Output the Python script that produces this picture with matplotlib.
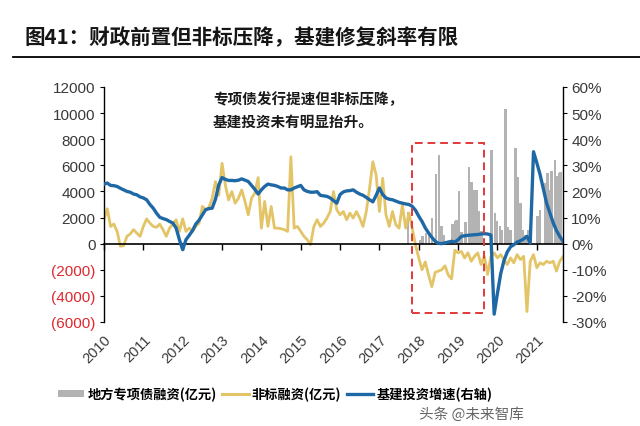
import numpy as np
import matplotlib
matplotlib.use('agg')
import matplotlib.pyplot as plt
from matplotlib.patches import Rectangle, Patch
from matplotlib.lines import Line2D

plt.rcParams['font.family'] = ['Liberation Sans', 'Noto Sans CJK SC']
CJK = ['Noto Sans CJK SC', 'DejaVu Sans']

########################## data ########################################
# monthly points, index 0 = first month at the 2010 tick (Mar 2010)
year_labels = ['2010', '2011', '2012', '2013', '2014', '2015',
               '2016', '2017', '2018', '2019', '2020', '2021']

# non-standard financing (亿元), left axis
nonstd = [1830, 2670, 1320, 1500, 940, -200, -150, 560, 740, 1070, 810, 560,
          1320, 1900, 1570, 1320, 1250, 1500, 1070, 560, 1190, 1500, 1830, 940,
          1900, 940, 1190, 940, 1320, 1570, 2850, 2590, 2770, 3480, 4750, 3700,
          6150, 4500, 3350, 3990, 3100, 3480, 4110, 3230, 2210, 3480, 3860, 5050,
          1190, 3230, 1320, 2850, 1190, 1190, 1140, 1070, 940, 6650, 1190, 1320,
          940, 560, 300, -80, 1300, 1830, 1320, 1570, 1960, 2460, 3990, 2590,
          2210, 2460, 1830, 2340, 1960, 2460, 1960, 1320, 2460, 4240, 6270, 5260,
          2460, 5000, 2210, 1320, 2460, 1450, 1190, 2970, 1190, 2340, 1190, -80,
          -1100, -2000, -1400, -2400, -3300, -2200, -2100, -2000, -1700, -2400, -2700, -500,
          -700, -600, -1100, -700, -1350, -970, -710, -1600, -970, -2360, -1000, -710,
          -1090, -840, -1220, -1600, -1090, -1470, -840, -1220, -970, -5200, -1350, -840,
          -1850, -1470, -1600, -1350, -1470, -1350, -2100, -1350, -1000]

# infrastructure investment growth (%), right axis
infra = [22.8, 23.2, 22.3, 22.2, 21.9, 21.2, 20.6, 20.0, 19.7, 19.0, 18.7, 17.9,
         17.5, 16.8, 15.0, 13.6, 11.7, 10.1, 9.6, 9.2, 8.5, 7.9, 6.0, 1.5,
         -2.3, 1.5, 3.2, 5.0, 7.5, 9.0, 11.0, 13.0, 13.4, 13.6, 17.0, 22.5,
         25.3, 24.6, 24.2, 24.2, 24.1, 24.3, 24.8, 24.3, 23.8, 22.3, 20.8, 19.0,
         20.6, 21.9, 22.8, 22.5, 22.3, 21.9, 21.3, 21.3, 20.6, 20.6, 21.3, 21.8,
         22.3, 20.6, 20.0, 19.7, 19.7, 19.9, 18.5, 18.3, 18.1, 17.5, 16.5, 15.5,
         18.8, 19.8, 20.2, 20.3, 20.6, 19.7, 19.0, 18.5, 17.7, 16.8, 16.0, 18.5,
         21.3, 18.8, 17.5, 17.0, 16.8, 16.3, 15.8, 15.5, 15.2, 15.0, 14.3, 12.8,
         10.5, 8.5, 6.0, 4.1, 2.4, 0.9, 0.1, 0.0, 0.3, 0.6, 0.9, 0.6,
         1.5, 2.8, 3.0, 3.2, 3.3, 3.4, 3.5, 3.7, 3.8, 3.7, 3.3, -27.0,
         -19.0, -11.5, -6.5, -3.2, -1.2, -0.4, 0.6, 1.1, 1.8, 2.8, 0.3, 35.2,
         31.0, 26.5, 21.0, 15.5, 11.7, 8.0, 5.0, 2.8, 0.9]

# local special bond financing (亿元), left axis; positions in months
bond_pos = [92.8, 96.3, 97.2, 98.2, 99.2, 100.1, 101.2, 102.2, 103.0, 103.7,
            106.3, 107.0, 107.5, 108.3, 109.1, 110.3, 111.3, 112.1, 112.8, 113.6,
            114.4, 115.2, 118.2, 119.2, 119.9, 120.7, 121.4, 122.5, 123.3, 124.0,
            125.5, 126.3, 127.0, 127.8, 128.5, 129.4, 132.2, 132.9, 134.5, 135.2,
            136.0, 136.5, 137.5, 138.0, 138.7, 139.3]
bond_val = [2400, 300, 600, 800, 800, 1950, 5300, 6800, 1350, 700,
            1500, 1700, 1800, 4000, 900, 1650, 5900, 4700, 4100, 4100,
            2500, 950, 7170, 2340, 1730, 1350, 1070, 10350, 1300, 1050,
            7300, 5140, 3100, 1050, 700, 1050, 2100, 2600, 4630, 5400,
            4100, 5550, 6400, 5150, 5400, 5500]

# highlighted window (months, left-axis units)
box_x = [93.9, 115.9]
box_y = [-5340, 7680]

left_ticks = [-6000, -4000, -2000, 0, 2000, 4000, 6000, 8000, 10000, 12000]
right_ticks = [-30, -20, -10, 0, 10, 20, 30, 40, 50, 60]

########################## plot ########################################
idx = np.arange(len(nonstd))
c_gray = '#B3B3B3'
c_yel = '#E3C466'
c_blue = '#1F68A6'
c_txt = '#3A3A3A'

fig = plt.figure(figsize=(6.4, 4.27), dpi=100)
ax = fig.add_axes([0.1625, 0.2436, 0.7172, 0.5504])
ax2 = ax.twinx()

ax.bar(bond_pos, bond_val, width=0.75, color=c_gray, zorder=1)
ax.plot(idx, nonstd, color=c_yel, lw=2.0, zorder=2)
ax2.plot(idx, infra, color=c_blue, lw=2.4, zorder=3)
ax2.add_patch(Rectangle((box_x[0], box_y[0] / 200.0), box_x[1] - box_x[0],
                        (box_y[1] - box_y[0]) / 200.0, fill=False,
                        edgecolor='#E2393A', lw=1.4, ls=(0, (4, 2.5)), zorder=4))

ax.set_xlim(0, len(nonstd) - 1)
ax.set_ylim(-6000, 12000)
ax2.set_ylim(-30, 60)

# axis line through zero with year ticks, labels at the bottom
ax.spines['bottom'].set_position(('data', 0))
ax.spines['top'].set_visible(False)
ax.spines['right'].set_visible(False)
for s in ['top', 'bottom', 'left']:
    ax2.spines[s].set_visible(False)
ax.spines['bottom'].set_linewidth(1.2)
ax.spines['left'].set_linewidth(1.0)
ax2.spines['right'].set_linewidth(1.0)

year_pos = np.arange(len(year_labels)) * 12
ax.set_xticks(year_pos)
ax.tick_params(axis='x', direction='out', length=4, width=1, labelbottom=False)
sec = ax.secondary_xaxis(0)
sec.set_xticks(year_pos)
sec.set_xticklabels(year_labels, rotation=45, ha='right', rotation_mode='anchor',
                    fontsize=10.5, color=c_txt)
sec.tick_params(length=0, pad=7)
sec.spines['bottom'].set_visible(False)

ax.set_yticks(left_ticks)
ax.set_yticklabels(['(%d)' % -v if v < 0 else '%d' % v for v in left_ticks], fontsize=11)
for lab, v in zip(ax.get_yticklabels(), left_ticks):
    lab.set_color('#E0262E' if v < 0 else c_txt)
ax.tick_params(axis='y', direction='out', length=3, pad=3)

ax2.set_yticks(right_ticks)
ax2.set_yticklabels(['%d%%' % v for v in right_ticks], fontsize=11, color=c_txt)
ax2.tick_params(axis='y', direction='out', length=3, pad=3)

# annotation
fig.text(0.333, 0.787, '专项债发行提速但非标压降，\n基建投资未有明显抬升。',
         family=CJK, fontsize=10.5, fontweight='bold', color='#1a1a1a',
         va='top', ha='left', linespacing=1.5)

# title and rule
fig.text(0.039, 0.911, '图41：财政前置但非标压降，基建修复斜率有限',
         family=CJK, fontsize=14.8, fontweight='bold', color='#151515', va='center')
fig.add_artist(Line2D([0.02, 1.0], [0.864, 0.864], color='black', lw=1.3))

# legend
handles = [Patch(facecolor=c_gray, edgecolor='none'),
           Line2D([], [], color=c_yel, lw=2.2),
           Line2D([], [], color=c_blue, lw=2.4)]
labels = ['地方专项债融资(亿元)', '非标融资(亿元)', '基建投资增速(右轴)']
fig.legend(handles, labels, loc='center', bbox_to_anchor=(0.43, 0.075), ncol=3,
           frameon=False, prop={'family': CJK, 'size': 9.5, 'weight': 'bold'},
           handlelength=2.0, handleheight=0.5, handletextpad=0.25, columnspacing=0.4)

fig.text(0.655, 0.030, '头条 @未来智库', family=CJK, fontsize=10.5, color='#666666',
         va='center', ha='left')

plt.savefig('out.png', dpi=100)
